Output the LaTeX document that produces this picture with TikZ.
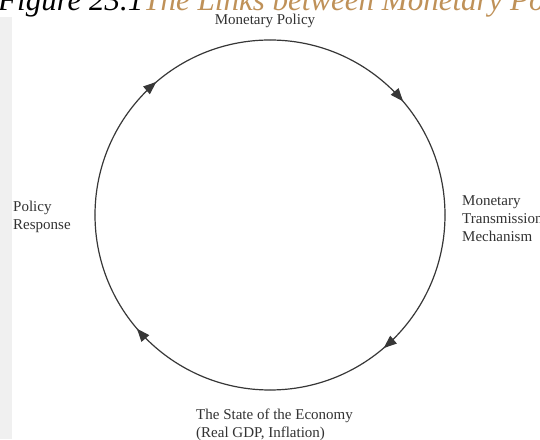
\documentclass[tikz,border=0pt]{standalone}
\usepackage{fontspec}
\setmainfont{Liberation Serif}
\usetikzlibrary{positioning,arrows.meta,decorations.markings}
\definecolor{framecolor}{RGB}{240,240,240}
\definecolor{titlecolor}{RGB}{191,145,88}
\definecolor{linecolor}{RGB}{55,55,55}
\definecolor{textcolor}{RGB}{50,50,50}

\begin{document}
\begin{tikzpicture}[
  x=1pt,y=1pt,
  labelnode/.style={font=\fontsize{15}{18}\selectfont,align=left,text=textcolor,inner sep=0pt},
  flow/.style={draw=linecolor,line width=1.2pt,postaction={decorate},
    decoration={markings,mark=at position 0.55 with {\arrow{Triangle[length=13pt,width=10pt]}}}},
]
\useasboundingbox (0,0) rectangle (540,439);

% --- BACKGROUND ---
\fill[white] (0,0) rectangle (540,439);
\fill[framecolor] (0,0) rectangle (12,422);

% --- TITLE (cut off by the page) ---
\node[anchor=base west,inner sep=0pt,font=\fontsize{31}{36}\selectfont\itshape] (title) at (-2,428)
  {Figure 23.1\textcolor{titlecolor}{The Links between Monetary Policy and the Economy}};

% --- CYCLE POINTS ---
\coordinate (hub) at (270,224);
\coordinate (ptop)    at ([shift={(90:175)}]hub);
\coordinate (pright)  at ([shift={(0:175)}]hub);
\coordinate (pbottom) at ([shift={(-90:175)}]hub);
\coordinate (pleft)   at ([shift={(180:175)}]hub);

% --- ARCS ---
\draw[flow] (ptop) arc[start angle=90,end angle=0,radius=175];
\draw[flow] (pright) arc[start angle=0,end angle=-90,radius=175];
\draw[flow] (pbottom) arc[start angle=270,end angle=180,radius=175];
\draw[flow] (pleft) arc[start angle=180,end angle=90,radius=175];

% --- LABELS ---
\node[labelnode,anchor=base,fill=white,inner sep=1pt] (policy) at (265,414) {Monetary Policy};
\node[labelnode,anchor=west] (mechanism) at (462,220.5) {Monetary\\Transmission\\Mechanism};
\node[labelnode,anchor=west] (economy) at (196,14.5) {The State of the Economy\\(Real GDP, Inflation)};
\node[labelnode,anchor=west] (response) at (13,222) {Policy\\Response};

\end{tikzpicture}
\end{document}
